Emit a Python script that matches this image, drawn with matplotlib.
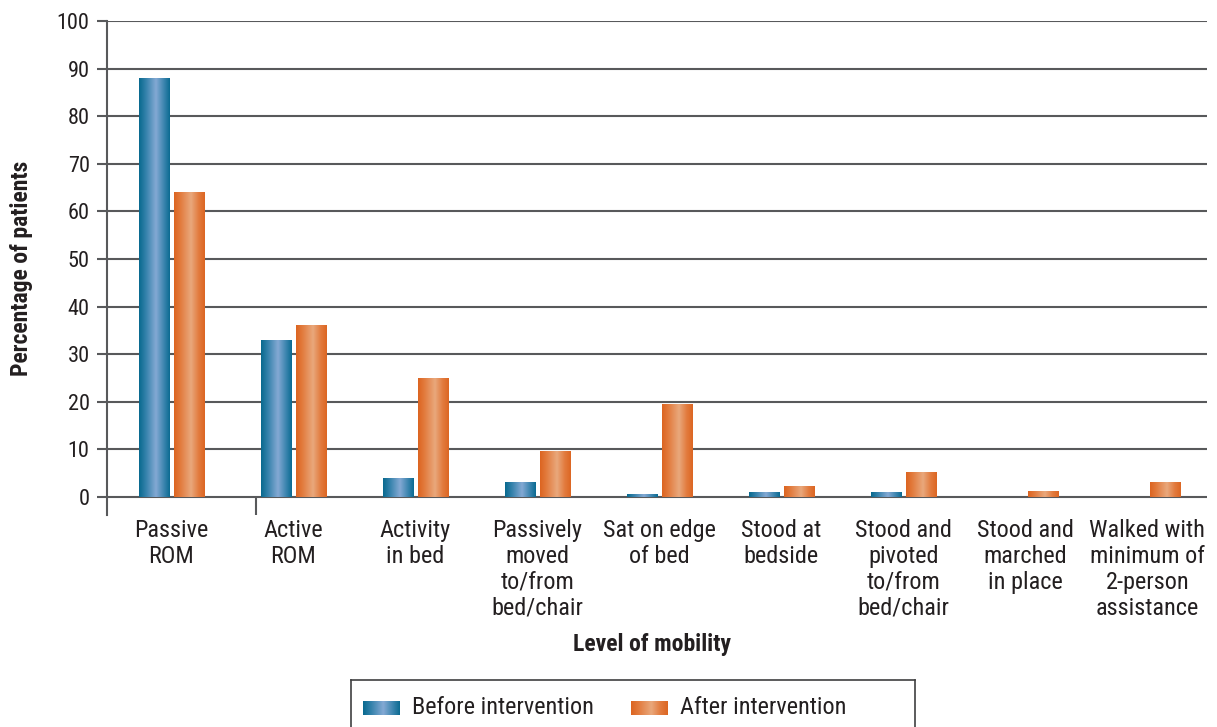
import numpy as np
import matplotlib
matplotlib.use("Agg")
import matplotlib.pyplot as plt
from matplotlib.colors import LinearSegmentedColormap

plt.rcParams['font.family'] = ['Roboto Condensed', 'DejaVu Sans']

categories = [
    "Passive\nROM", "Active\nROM", "Activity\nin bed",
    "Passively\nmoved\nto/from\nbed/chair", "Sat on edge\nof bed",
    "Stood at\nbedside", "Stood and\npivoted\nto/from\nbed/chair",
    "Stood and\nmarched\nin place", "Walked with\nminimum of\n2-person\nassistance",
]
before = [88, 33, 4, 3.2, 0.7, 1, 1, 0, 0]
after = [64, 36.2, 25, 9.7, 19.6, 2.3, 5.3, 1.2, 3.1]
series_names = ["Before intervention", "After intervention"]
yticks = list(range(0, 101, 10))

W, H = 1217, 727
fig = plt.figure(figsize=(W / 100, H / 100), dpi=100)
ax = fig.add_axes([107 / W, 1 - 515 / H, (1207 - 107) / W, (515 - 21) / H])

text_color = "#231F20"
grid_color = "#58595B"

blue_cmap = LinearSegmentedColormap.from_list(
    "blue_bar", [(0, "#08698F"), (0.2, "#2F7FA8"), (0.55, "#84A9D4"), (0.8, "#3E86B0"), (1, "#0A6A91")])
orange_cmap = LinearSegmentedColormap.from_list(
    "orange_bar", [(0, "#DC6420"), (0.2, "#E27A3C"), (0.55, "#E9A87C"), (0.8, "#E27B3E"), (1, "#DC6622")])

x = np.arange(len(categories))
bw = 0.246
off = 0.143
bars_b = ax.bar(x - off, before, bw, color="none", edgecolor="none", zorder=3)
bars_a = ax.bar(x + off, after, bw, color="none", edgecolor="none", zorder=3)

grad = np.linspace(0, 1, 256).reshape(1, -1)
for bars, cmap in ((bars_b, blue_cmap), (bars_a, orange_cmap)):
    for p in bars:
        h = p.get_height()
        if h <= 0:
            continue
        x0 = p.get_x()
        im = ax.imshow(grad, cmap=cmap, aspect="auto",
                       extent=(x0, x0 + p.get_width(), 0, h), zorder=3)
        im.set_clip_path(p)

ax.set_xlim(-0.525, 8.49)
ax.set_ylim(-3.78, 100)
ax.set_yticks(yticks)
ax.set_yticklabels([str(t) for t in yticks], fontsize=16, color=text_color)
ax.yaxis.grid(True, color=grid_color, linewidth=1.5, zorder=1)
ax.set_axisbelow(True)
ax.tick_params(axis="y", length=7.5, width=1.5, color=grid_color, pad=5)

ax.set_xticks(x)
ax.set_xticklabels(categories, fontsize=17.5, color=text_color, linespacing=1.16)
ax.tick_params(axis="x", length=0, pad=3)

for s in ("top", "right", "bottom"):
    ax.spines[s].set_visible(False)
ax.spines["left"].set_color(grid_color)
ax.spines["left"].set_linewidth(1.5)
# separator tick under the first group boundary
ax.vlines(0.7, -3.78, 0, color=grid_color, linewidth=1.5, zorder=2)

ax.set_ylabel("Percentage of patients", fontsize=17, fontweight="bold",
              color=text_color)
ax.yaxis.set_label_coords(-74 / 1100, (515 - 268) / 494)
fig.text(652 / W, 1 - 645 / H, "Level of mobility", fontsize=17, fontweight="bold",
         color=text_color, ha="center", va="center")

# legend box (runs off the bottom edge)
lax = fig.add_axes([351 / W, 1 - 760 / H, (915 - 351) / W, 80 / H])
lax.set_xticks([])
lax.set_yticks([])
for s in lax.spines.values():
    s.set_color("#404041")
    s.set_linewidth(1.2)
swatches = [(12, blue_cmap), (280, orange_cmap)]
for (sx, cmap), name in zip(swatches, series_names):
    lax.imshow(grad, cmap=cmap, aspect="auto", extent=(sx, sx + 37, 35, 21))
    lax.text(sx + 49, 27, name, fontsize=17.5, color=text_color, va="center", ha="left")
lax.set_xlim(0, 564)
lax.set_ylim(80, 0)

fig.savefig("out.png", dpi=100)
